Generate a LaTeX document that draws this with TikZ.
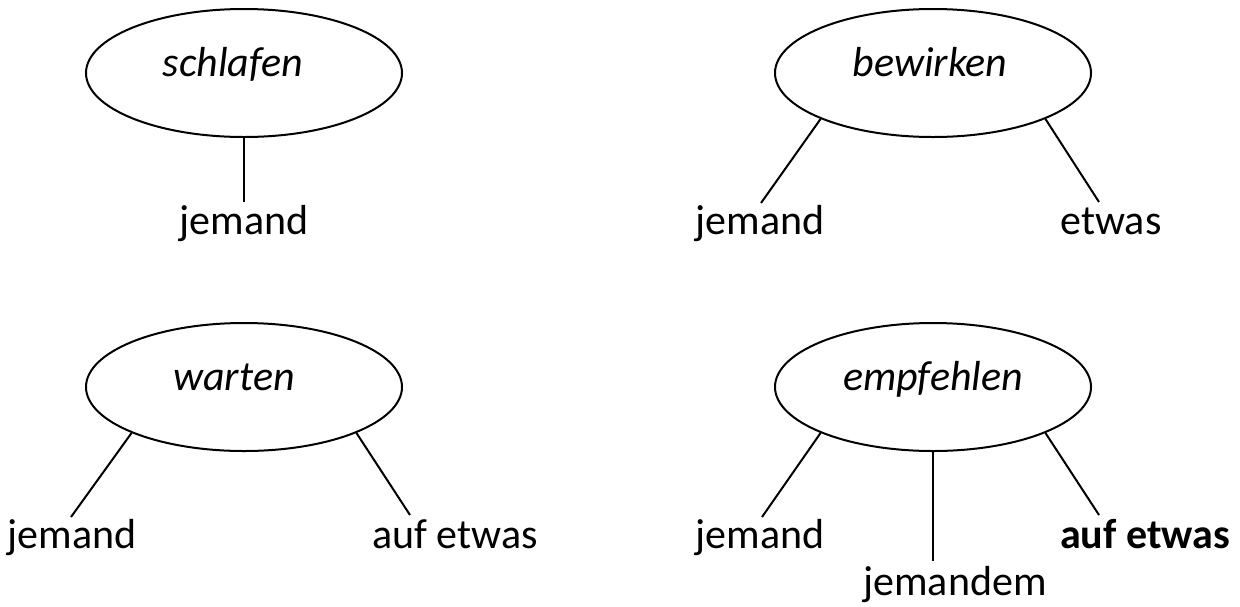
\documentclass[tikz,border=0pt]{standalone}
\usepackage{fontspec}
\setmainfont{Carlito}
\usetikzlibrary{shapes.geometric}
\begin{document}
\begin{tikzpicture}[x=0.5pt,y=-0.5pt,
  verb/.style={draw, ellipse, line width=1pt, minimum width=158pt, minimum height=64pt, inner sep=0pt,
    font=\fontsize{21}{25}\selectfont\itshape, text height=10pt, text depth=6.5pt},
  arg/.style={anchor=base, inner sep=1pt, font=\fontsize{21}{25}\selectfont},
  argbold/.style={arg, font=\fontsize{21}{25}\selectfont\bfseries},
  link/.style={line width=1pt}]
\useasboundingbox (0,0) rectangle (1240,606);
% verbs
\node[verb] (e1) at (244,73) {\kern-11pt schlafen};
\node[verb] (e2) at (933,73) {\kern-3pt bewirken};
\node[verb] (e3) at (244,387) {\kern-10pt warten};
\node[verb] (e4) at (933,387) {empfehlen};
% arguments
\node[arg] (a1) at (244,234) {jemand};
\node[arg] (a2) at (760,234) {jemand};
\node[arg] (a3) at (1111,234) {etwas};
\node[arg] (a4) at (72,548) {jemand};
\node[arg] (a5) at (455,548) {auf etwas};
\node[arg] (a6) at (760,548) {jemand};
\node[arg] (a7) at (955,595) {jemandem};
\node[argbold] (a8) at (1145,548) {auf etwas};
% line ends
\coordinate (p1) at (244,202);
\coordinate (p2) at (761,203);
\coordinate (p3) at (1099,202);
\coordinate (p4) at (71,517);
\coordinate (p5) at (410,515);
\coordinate (p6) at (762,517);
\coordinate (p7) at (933,561);
\coordinate (p8) at (1099,515);
% connectors
\draw[link] (e1.south) -- (p1);
\draw[link] (e2.south west) -- (p2);
\draw[link] (e2.south east) -- (p3);
\draw[link] (e3.south west) -- (p4);
\draw[link] (e3.south east) -- (p5);
\draw[link] (e4.south west) -- (p6);
\draw[link] (e4.south) -- (p7);
\draw[link] (e4.south east) -- (p8);
\end{tikzpicture}
\end{document}
